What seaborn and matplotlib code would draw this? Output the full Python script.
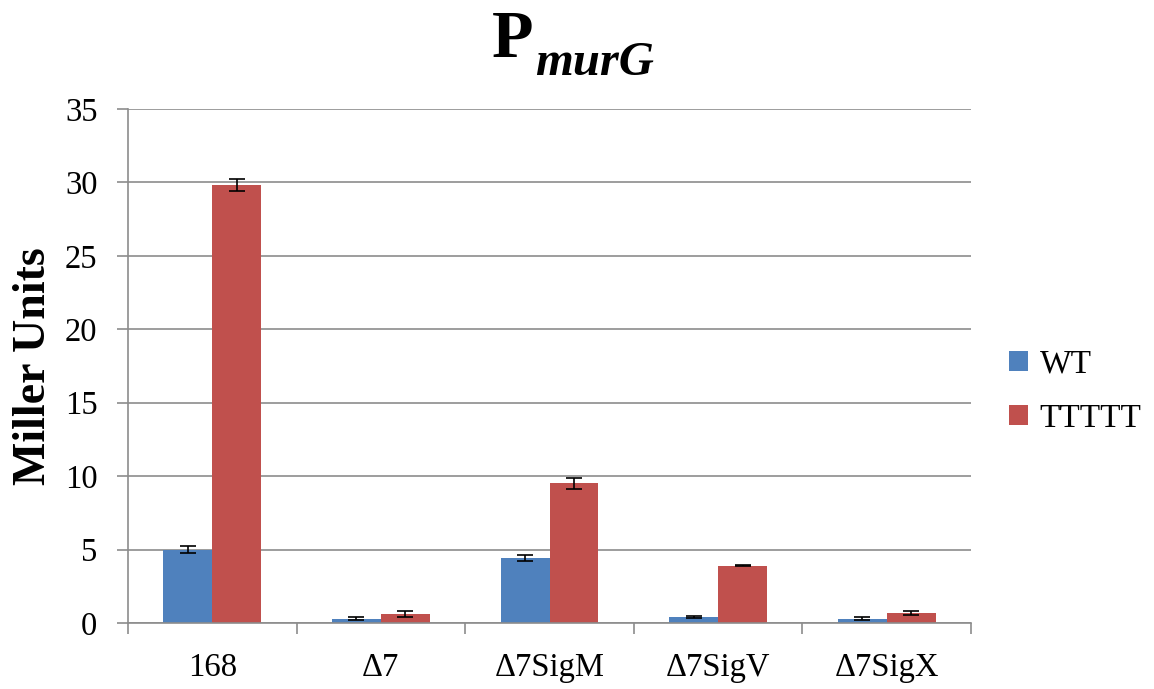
import matplotlib
matplotlib.use("Agg")
import matplotlib.pyplot as plt
import seaborn as sns
import pandas as pd
import numpy as np

categories = ["168", "Δ7", "Δ7SigM", "Δ7SigV", "Δ7SigX"]
wt_values = [5.0, 0.3, 4.4, 0.4, 0.3]
wt_errors = [0.25, 0.1, 0.2, 0.05, 0.1]
ttttt_values = [29.8, 0.6, 9.5, 3.9, 0.7]
ttttt_errors = [0.4, 0.2, 0.35, 0.05, 0.15]
series = ["WT", "TTTTT"]
colors = ["#4F81BD", "#C0504D"]
yticks = [0, 5, 10, 15, 20, 25, 30, 35]

sns.set_style("white")
plt.rcParams['font.family'] = ['Liberation Serif', 'DejaVu Serif']
plt.rcParams['text.color'] = 'black'
plt.rcParams['axes.labelcolor'] = 'black'

df = pd.DataFrame({
    "strain": categories * 2,
    "series": [series[0]] * len(categories) + [series[1]] * len(categories),
    "value": wt_values + ttttt_values,
})

W, H = 1154, 689
fig = plt.figure(figsize=(W / 100, H / 100), dpi=100)
ax = fig.add_axes([128/W, 1 - 623/H, (971-128)/W, (623-109)/H])

sns.barplot(data=df, x="strain", y="value", hue="series", order=categories,
            hue_order=series, palette=colors, width=0.58, ax=ax,
            errorbar=None, saturation=1, legend=True, linewidth=0)

for cont, errs in zip(ax.containers, [wt_errors, ttttt_errors]):
    xs = [p.get_x() + p.get_width() / 2 for p in cont]
    hs = [p.get_height() for p in cont]
    ax.errorbar(xs, hs, yerr=errs, fmt="none", ecolor="black", elinewidth=1.2,
                capsize=6, capthick=1.2, zorder=5)

ax.set_ylim(0, 35)
ax.set_xlim(-0.5, len(categories) - 0.5)
ax.set_yticks(yticks)
ax.yaxis.grid(True, color="#8C8C8C", linewidth=1.2)
ax.set_axisbelow(True)
for s in ["top", "right"]:
    ax.spines[s].set_visible(False)
for s in ["left", "bottom"]:
    ax.spines[s].set_color("#8C8C8C")
    ax.spines[s].set_linewidth(1.2)

ax.set_xlabel("")
ax.set_ylabel("Miller Units", fontsize=33, fontweight="bold", labelpad=7,
              color="black")
ax.tick_params(axis="y", labelsize=23.5, length=8, width=1.2, color="#8C8C8C",
               left=True, pad=14, labelcolor="black")
ax.tick_params(axis="x", labelsize=23.5, bottom=False, pad=18, labelcolor="black")
ax.set_xticks(np.arange(-0.5, len(categories) + 0.5), minor=True)
ax.tick_params(axis="x", which="minor", bottom=True, length=8, color="#8C8C8C", width=1.2)

leg = ax.legend(loc="center left", bbox_to_anchor=(1.01, 0.45), frameon=False,
                fontsize=24, handlelength=0.55, handleheight=0.55,
                labelspacing=0.72, handletextpad=0.35)
for t in leg.get_texts():
    t.set_color("black")

fig.text(533/W, 1 - 57/H, "P", fontsize=49, fontweight="bold", ha="right",
         va="baseline", color="black")
fig.text(535/W, 1 - 75/H, "murG", fontsize=35, fontweight="bold",
         fontstyle="italic", ha="left", va="baseline", color="black")

fig.savefig("out.png", dpi=100)
